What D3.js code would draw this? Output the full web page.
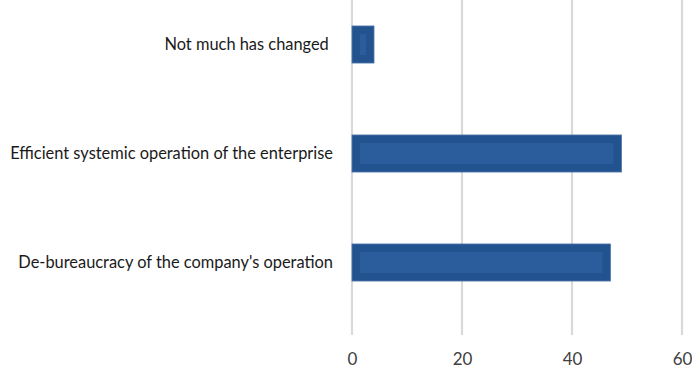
<!DOCTYPE html>
<html>
<head>
<meta charset="utf-8">
<script src="https://cdn.jsdelivr.net/npm/d3@7"></script>
<style>
  html, body { margin: 0; padding: 0; background: #fff; }
  svg { display: block; }
  .cat { white-space: pre; }
</style>
</head>
<body>
<svg id="chart" width="692" height="369"></svg>
<script>
// Survey answers, top to bottom
const categories = [
  "Not much has changed ",
  "Efficient systemic operation of the enterprise",
  "De-bureaucracy of the company's operation"
];
const values = [4, 49, 47];
const xTicks = [0, 20, 40, 60];

const svg = d3.select("#chart");

const x = d3.scaleLinear().domain([0, 60]).range([352, 682]);
const y = d3.scaleBand()
  .domain(categories)
  .range([-10, 317])
  .paddingInner(0.66)
  .paddingOuter(0.33);

// Vertical gridlines
svg.append("g")
  .selectAll("line")
  .data(xTicks)
  .join("line")
  .attr("x1", d => x(d)).attr("x2", d => x(d))
  .attr("y1", 0).attr("y2", 335)
  .attr("stroke", "#d9d9d9")
  .attr("stroke-width", 2.2);

// Bottom axis labels only
const xAxis = d3.axisBottom(x).tickValues(xTicks).tickSize(0).tickPadding(0);
const gx = svg.append("g").attr("transform", "translate(0,351)").call(xAxis);
gx.select(".domain").remove();
gx.selectAll("text")
  .attr("dy", "0.85em")
  .attr("font-family", "Lato, 'Liberation Sans', sans-serif")
  .attr("font-size", 17)
  .attr("fill", "#404040");

// Category labels
const yAxis = d3.axisLeft(y).tickSize(0).tickPadding(0);
const gy = svg.append("g").attr("transform", "translate(333,0)").call(yAxis);
gy.select(".domain").remove();
gy.selectAll("text")
  .attr("class", "cat")
  .attr("font-family", "Lato, 'Liberation Sans', sans-serif")
  .attr("font-size", 16.4)
  .attr("fill", "#1a1a1a");

// Bars with a bevelled look: dark outer body plus lighter inset panel
const bars = svg.append("g")
  .selectAll("g")
  .data(categories.map((c, i) => ({ c, v: values[i] })))
  .join("g");

bars.append("rect")
  .attr("x", x(0))
  .attr("y", d => y(d.c))
  .attr("width", d => x(d.v) - x(0))
  .attr("height", y.bandwidth())
  .attr("fill", "#23538e")
  .attr("stroke", "#4f78ad")
  .attr("stroke-width", 0.8);

const inset = 8;
bars.append("rect")
  .attr("x", x(0) + inset)
  .attr("y", d => y(d.c) + inset)
  .attr("width", d => Math.max(0, x(d.v) - x(0) - 2 * inset))
  .attr("height", y.bandwidth() - 2 * inset)
  .attr("fill", "#2b5d9c");
</script>
</body>
</html>
